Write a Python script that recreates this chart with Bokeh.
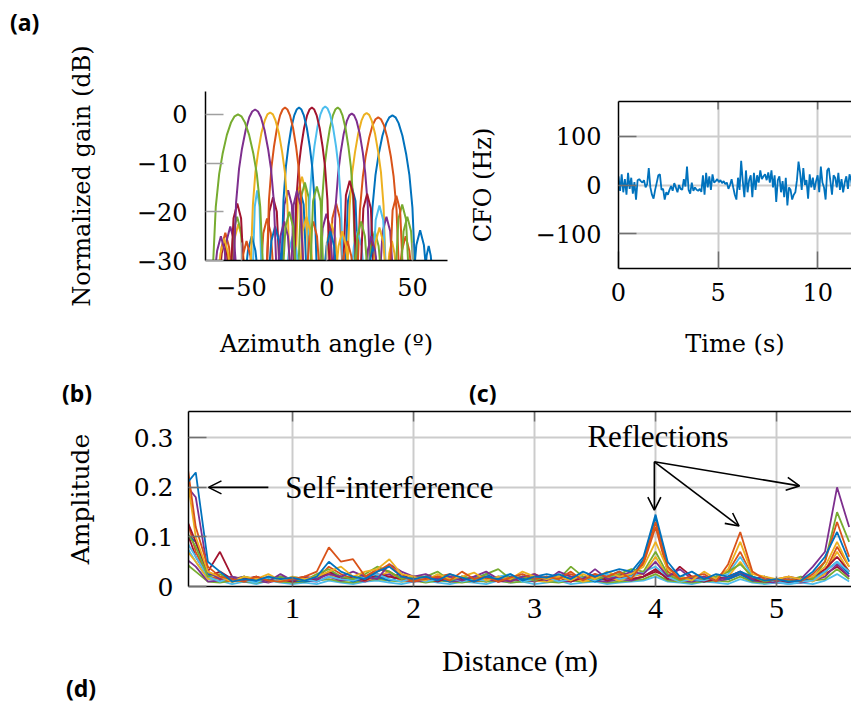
from bokeh.plotting import figure
from bokeh.layouts import column, row
from bokeh.models import Arrow, OpenHead, Label, LinearAxis, FixedTicker, Range1d, Div
from bokeh.embed import file_html
from bokeh.resources import INLINE

BLUE = "#0072BD"; ORANGE = "#D95319"; YELLOW = "#EDB120"; PURPLE = "#7E2F8E"
GREEN = "#77AC30"; LBLUE = "#4DBEEE"; DRED = "#A2142F"

# ---------------- (a) beam patterns: azimuth (deg) / normalized gain (dB) ----------------
beam_b1_deg = [-19.8,-18.0,-15.8,-13.6,-11.8, 10.5,12.3,14.5,16.7,18.5,
               24.8,26.6,28.4,30.2,32.45,34.7,36.5,38.3,40.1,41.9,44.15,46.4,48.2,50.0,51.8,
               50.5,52.3,54.5,56.7,58.5, 57,58.3,59.5,60.7,62]
beam_b1_db = [-34,-18.5,-15.5,-18.5,-34, -34,-17.8,-14.8,-17.8,-34,
              -34,-19.2,-12.4,-8.3,-4.4,-1.8,-0.6,-0.2,-0.6,-1.8,-4.4,-8.3,-12.4,-19.2,-34,
              -34,-26.8,-23.8,-26.8,-34, -34,-29,-27,-29,-34]
beam_o1_deg = [-63.4,-61.6,-59.4,-57.2,-55.4, -39,-37.2,-35,-32.8,-31, 1.4,3.2,5.4,7.6,9.4,
               17.7,19.3,21.0,22.6,24.7,26.7,28.4,30.0,31.6,33.3,35.3,37.4,39.0,40.7,42.3,
               42,43.8,46,48.2,50]
beam_o1_db = [-34,-27.3,-24.3,-27.3,-34, -34,-24.4,-21.4,-24.4,-34, -34,-21.3,-18.3,-21.3,-34,
              -34,-19.6,-12.8,-8.7,-4.8,-2.2,-1.0,-0.6,-1.0,-2.2,-4.8,-8.7,-12.8,-19.6,-34,
              -34,-28,-25,-28,-34]
beam_y1_deg = [-55.8,-54.0,-51.8,-49.6,-47.8, -18.6,-16.8,-14.6,-12.4,-10.6, -1.3,0.5,2.7,4.9,6.7,
               11.8,13.3,14.8,16.4,18.3,20.2,21.7,23.2,24.7,26.2,28.1,30.0,31.6,33.1,34.6,
               35,36.5,38,39.5,41]
beam_y1_db = [-34,-25.5,-22.5,-25.5,-34, -34,-15.8,-12.8,-15.8,-34, -34,-25.4,-22.4,-25.4,-34,
              -34,-18.7,-11.9,-7.8,-3.9,-1.3,-0.1,0.3,-0.1,-1.3,-3.9,-7.8,-11.9,-18.7,-34,
              -34,-28.5,-26,-28.5,-34]
beam_p1_deg = [-60.5,-58.7,-56.5,-54.3,-52.5, -26.7,-24.9,-22.7,-20.5,-18.7, -4.3,-2.5,-0.3,1.9,3.7,
               3.7,5.1,6.6,8.0,9.8,11.6,13.1,14.5,15.9,17.4,19.2,21.0,22.4,23.9,25.3,
               30.8,32.6,34.8,37.0,38.8]
beam_p1_db = [-34,-26,-23,-26,-34, -34,-18.6,-15.6,-18.6,-34, -34,-23.4,-20.4,-23.4,-34,
              -34,-18.8,-12.0,-7.9,-4.0,-1.4,-0.2,0.2,-0.2,-1.4,-4.0,-7.9,-12.0,-18.8,-34,
              -34,-24,-21,-24,-34]
beam_g1_deg = [-56.5,-54.7,-52.5,-50.3,-48.5, -16.9,-15.1,-12.9,-10.7,-8.9,
               -4.2,-2.8,-1.4,0.0,1.75,3.5,4.9,6.3,7.7,9.1,10.85,12.6,14.0,15.4,16.8,
               24,25.8,28,30.2,32, 40,41.8,44,46.2,48]
beam_g1_db = [-34,-24,-21,-24,-34, -34,-17,-14,-17,-34,
              -34,-17.6,-10.8,-6.7,-2.8,-0.2,1.0,1.4,1.0,-0.2,-2.8,-6.7,-10.8,-17.6,-34,
              -34,-27,-24,-27,-34, -34,-21.5,-18.5,-21.5,-34]
beam_l1_deg = [-43.5,-42.2,-40.8,-39.4,-38.1, -24,-22.2,-20,-17.8,-16,
               -11.5,-10.1,-8.7,-7.3,-5.55,-3.8,-2.4,-1.0,0.4,1.8,3.55,5.3,6.7,8.1,9.5,
               14,15.8,18,20.2,22, 26.7,28.5,30.7,32.9,34.7]
beam_l1_db = [-34,-19,-15.6,-19,-34, -34,-28,-25,-28,-34,
              -34,-17.4,-10.6,-6.5,-2.6,0.0,1.2,1.6,1.2,0.0,-2.6,-6.5,-10.6,-17.4,-34,
              -34,-27,-24,-27,-34, -34,-21.7,-18.7,-21.7,-34]
beam_r1_deg = [-63,-61.5,-60,-58.5,-57, -56.4,-54.6,-52.4,-50.2,-48.4, -35.5,-33.7,-31.5,-29.3,-27.5,
               -19.3,-17.9,-16.5,-15.1,-13.35,-11.6,-10.2,-8.8,-7.4,-6.0,-4.25,-2.5,-1.1,0.3,1.7,
               9.3,11.1,13.3,15.5,17.3, 19.5,21.3,23.5,25.7,27.5]
beam_r1_db = [-34,-28.5,-26,-28.5,-34, -34,-21.3,-18.3,-21.3,-34, -34,-20,-17,-20,-34,
              -34,-17.6,-10.8,-6.7,-2.8,-0.2,1.0,1.4,1.0,-0.2,-2.8,-6.7,-10.8,-17.6,-34,
              -34,-16.6,-13.6,-16.6,-34, -34,-19.3,-16.3,-19.3,-34]
beam_b2_deg = [-48,-46.2,-44,-41.8,-40, -34.3,-32.5,-30.3,-28.1,-26.3,
               -26.8,-25.4,-24.0,-22.6,-20.85,-19.1,-17.7,-16.3,-14.9,-13.5,-11.75,-10.0,-8.6,-7.2,-5.8,
               -2,-0.2,2,4.2,6, 24,25.5,27,28.5,30]
beam_b2_db = [-34,-28,-25,-28,-34, -34,-26,-23,-26,-34,
              -34,-17.6,-10.8,-6.7,-2.8,-0.2,1.0,1.4,1.0,-0.2,-2.8,-6.7,-10.8,-17.6,-34,
              -34,-27,-24,-27,-34, -34,-29.5,-27,-29.5,-34]
beam_o2_deg = [-51,-49.2,-47,-44.8,-43,
               -35.3,-33.9,-32.4,-31.0,-29.2,-27.4,-25.9,-24.5,-23.1,-21.6,-19.8,-18.0,-16.6,-15.1,-13.7,
               -12,-10.2,-8,-5.8,-4, 8,9.8,12,14.2,16, 36.6,38.4,40.6,42.8,44.6]
beam_o2_db = [-34,-29,-26,-29,-34,
              -34,-17.6,-10.8,-6.7,-2.8,-0.2,1.0,1.4,1.0,-0.2,-2.8,-6.7,-10.8,-17.6,-34,
              -34,-25,-22,-25,-34, -34,-29,-26,-29,-34, -34,-19.7,-16.7,-19.7,-34]
beam_y2_deg = [-64,-62.2,-60,-57.8,-56,
               -44.9,-43.3,-41.8,-40.2,-38.3,-36.3,-34.8,-33.2,-31.6,-30.1,-28.1,-26.2,-24.6,-23.1,-21.5,
               -16,-14.2,-12,-9.8,-8, 5,6.8,9,11.2,13, 26.7,28.5,30.7,32.9,34.7]
beam_y2_db = [-34,-28.5,-25.5,-28.5,-34,
              -34,-18.6,-11.8,-7.7,-3.8,-1.2,0.0,0.4,0.0,-1.2,-3.8,-7.7,-11.8,-18.6,-34,
              -34,-24,-21,-24,-34, -34,-27,-24,-27,-34, -34,-26.2,-23.2,-26.2,-34]
beam_p2_deg = [-66,-64.2,-62,-59.8,-58,
               -54.8,-53.1,-51.4,-49.7,-47.5,-45.4,-43.7,-42.0,-40.3,-38.6,-36.5,-34.4,-32.7,-31.0,-29.3,
               -29,-27.2,-25,-22.8,-21, -21,-19.5,-17.5,-15.5,-13.5, 22,23.8,26,28.2,30]
beam_p2_db = [-34,-28,-25,-28,-34,
              -34,-18.0,-11.2,-7.1,-3.2,-0.6,0.6,1.0,0.6,-0.6,-3.2,-7.1,-11.2,-18.0,-34,
              -34,-25,-22,-25,-34, -34,-18.6,-15.6,-18.6,-34, -34,-28,-25,-28,-34]
beam_g2_deg = [-67,-65,-63,-61,-58.5,-56,-54,-52,-50,-48,-45.5,-43,-41,-39,-37,
               -26,-24.2,-22,-19.8,-18, -9.9,-8.1,-5.9,-3.7,-1.9, 16,17.8,20,22.2,24, 43,44.8,47,49.2,51]
beam_g2_db = [-34,-19,-12.2,-8.1,-4.2,-1.6,-0.4,0,-0.4,-1.6,-4.2,-8.1,-12.2,-19,-34,
              -34,-23,-20,-23,-34, -34,-17.8,-14.8,-17.8,-34, -34,-25,-22,-25,-34, -34,-24,-21,-24,-34]

beams = [(beam_b1_deg, beam_b1_db, BLUE), (beam_o1_deg, beam_o1_db, ORANGE),
         (beam_y1_deg, beam_y1_db, YELLOW), (beam_p1_deg, beam_p1_db, PURPLE),
         (beam_g1_deg, beam_g1_db, GREEN), (beam_l1_deg, beam_l1_db, LBLUE),
         (beam_r1_deg, beam_r1_db, DRED), (beam_b2_deg, beam_b2_db, BLUE),
         (beam_o2_deg, beam_o2_db, ORANGE), (beam_y2_deg, beam_y2_db, YELLOW),
         (beam_p2_deg, beam_p2_db, PURPLE), (beam_g2_deg, beam_g2_db, GREEN)]
gain_xticks = [-50, 0, 50]
gain_xlabels = {-50: "\u221250", 0: "0", 50: "50"}
gain_yticks = [-30, -20, -10, 0]
gain_ylabels = {-30: "\u221230", -20: "\u221220", -10: "\u221210", 0: "0"}

# ---------------- (c) CFO over time ----------------
cfo_dt = 0.08
cfo_hz = [18, -12, 22, -15, 12, -20, 25, -8, 15, -18, 6, -30,
          10, 12, 8, 5, 10, -5, 2, 35, -5, -20, -28, -10,
          5, 20, 22, -10, -8, -30, -15, -20, -10, -2, -12, 4,
          -5, -15, 0, -8, -10, 12, -3, 38, -10, -18, 5, -12,
          -5, -10, -12, -8, -14, 20, -20, 25, -5, 18, -10, 22,
          5, 8, 12, 6, 10, 4, 8, 2, 5, -8, 0, 12,
          -5, -20, -30, 15, -10, 50, 8, -25, 30, -15, 10, 20,
          -25, 25, -10, 20, 5, 30, 12, 18, 22, 10, 26, 5,
          30, -5, 20, -35, 10, 18, -15, 8, -25, 15, -42, -5,
          -10, -30, -20, -15, 10, 48, 25, -10, 35, 0, 10, -28,
          22, -5, 15, -10, 8, 20, -15, 38, 5, -5, -30, 30,
          35, 8, -20, 20, 15, -5, 25, -10, 12, -15, 5, 18,
          -8, 22, 10, -15]
cfo_t = [i * cfo_dt for i in range(len(cfo_hz))]
cfo_xticks = [0, 5, 10]
cfo_yticks = [-100, 0, 100]
cfo_ylabels = {-100: "\u2212100", 0: "0", 100: "100"}

# ---------------- (b) range profiles: distance (m) / amplitude ----------------
dist_m = [0.1, 0.2, 0.3, 0.4, 0.5, 0.6, 0.7, 0.8, 0.9, 1.0,
          1.1, 1.2, 1.3, 1.4, 1.5, 1.6, 1.7, 1.8, 1.9, 2.0,
          2.1, 2.2, 2.3, 2.4, 2.5, 2.6, 2.7, 2.8, 2.9, 3.0,
          3.1, 3.2, 3.3, 3.4, 3.5, 3.6, 3.7, 3.8, 3.9, 4.0,
          4.1, 4.2, 4.3, 4.4, 4.5, 4.6, 4.7, 4.8, 4.9, 5.0,
          5.1, 5.2, 5.3, 5.4, 5.5, 5.6]
amp_1 = [0.20, 0.23, 0.05, 0.03, 0.01, 0.015, 0.012, 0.02, 0.015, 0.018,
         0.012, 0.02, 0.05, 0.03, 0.02, 0.015, 0.03, 0.04, 0.02, 0.015,
         0.02, 0.012, 0.025, 0.018, 0.01, 0.02, 0.015, 0.025, 0.012, 0.02,
         0.018, 0.025, 0.015, 0.03, 0.02, 0.028, 0.035, 0.03, 0.06, 0.145,
         0.05, 0.02, 0.03, 0.015, 0.025, 0.02, 0.03, 0.02, 0.012, 0.015,
         0.01, 0.012, 0.03, 0.06, 0.11, 0.05]
amp_2 = [0.30, 0.12, 0.04, 0.02, 0.015, 0.01, 0.02, 0.012, 0.01, 0.015,
         0.02, 0.03, 0.079, 0.05, 0.055, 0.02, 0.03, 0.045, 0.02, 0.012,
         0.015, 0.02, 0.012, 0.03, 0.015, 0.02, 0.01, 0.018, 0.025, 0.015,
         0.02, 0.015, 0.03, 0.012, 0.025, 0.02, 0.03, 0.015, 0.05, 0.13,
         0.04, 0.015, 0.02, 0.025, 0.01, 0.045, 0.11, 0.03, 0.015, 0.012,
         0.015, 0.01, 0.025, 0.05, 0.13, 0.06]
amp_3 = [0.27, 0.10, 0.03, 0.02, 0.01, 0.02, 0.015, 0.025, 0.012, 0.02,
         0.015, 0.02, 0.03, 0.04, 0.02, 0.03, 0.035, 0.055, 0.025, 0.02,
         0.012, 0.025, 0.015, 0.02, 0.028, 0.012, 0.02, 0.015, 0.03, 0.02,
         0.015, 0.02, 0.012, 0.025, 0.015, 0.03, 0.02, 0.025, 0.04, 0.09,
         0.035, 0.02, 0.012, 0.03, 0.015, 0.035, 0.09, 0.025, 0.02, 0.015,
         0.02, 0.015, 0.02, 0.04, 0.09, 0.04]
amp_4 = [0.21, 0.18, 0.03, 0.015, 0.02, 0.012, 0.018, 0.01, 0.025, 0.012,
         0.02, 0.015, 0.025, 0.02, 0.03, 0.02, 0.015, 0.045, 0.03, 0.02,
         0.025, 0.015, 0.02, 0.012, 0.02, 0.03, 0.015, 0.01, 0.02, 0.025,
         0.012, 0.03, 0.02, 0.015, 0.035, 0.015, 0.02, 0.03, 0.025, 0.05,
         0.02, 0.035, 0.015, 0.02, 0.012, 0.02, 0.03, 0.015, 0.02, 0.01,
         0.02, 0.015, 0.04, 0.07, 0.20, 0.12]
amp_5 = [0.12, 0.08, 0.02, 0.025, 0.01, 0.02, 0.015, 0.012, 0.02, 0.015,
         0.012, 0.025, 0.035, 0.02, 0.015, 0.025, 0.04, 0.03, 0.015, 0.02,
         0.02, 0.03, 0.012, 0.02, 0.015, 0.025, 0.035, 0.015, 0.02, 0.012,
         0.02, 0.015, 0.04, 0.02, 0.015, 0.02, 0.025, 0.035, 0.03, 0.07,
         0.025, 0.012, 0.02, 0.015, 0.02, 0.03, 0.045, 0.02, 0.01, 0.015,
         0.012, 0.02, 0.015, 0.05, 0.15, 0.09]
amp_6 = [0.10, 0.06, 0.02, 0.01, 0.02, 0.012, 0.008, 0.018, 0.01, 0.02,
         0.015, 0.01, 0.02, 0.015, 0.012, 0.02, 0.025, 0.015, 0.01, 0.018,
         0.01, 0.015, 0.02, 0.01, 0.015, 0.012, 0.02, 0.025, 0.01, 0.015,
         0.02, 0.01, 0.015, 0.02, 0.012, 0.025, 0.015, 0.02, 0.03, 0.04,
         0.02, 0.01, 0.015, 0.012, 0.02, 0.025, 0.06, 0.02, 0.015, 0.01,
         0.005, 0.01, 0.012, 0.03, 0.05, 0.03]
amp_7 = [0.15, 0.09, 0.03, 0.07, 0.02, 0.015, 0.02, 0.012, 0.015, 0.01,
         0.018, 0.012, 0.03, 0.015, 0.02, 0.012, 0.025, 0.02, 0.015, 0.02,
         0.018, 0.01, 0.02, 0.015, 0.012, 0.02, 0.01, 0.015, 0.02, 0.012,
         0.015, 0.02, 0.01, 0.018, 0.025, 0.012, 0.02, 0.015, 0.02, 0.035,
         0.015, 0.04, 0.02, 0.01, 0.015, 0.02, 0.03, 0.015, 0.01, 0.012,
         0.01, 0.015, 0.02, 0.035, 0.06, 0.03]
amp_8 = [0.11, 0.09, 0.025, 0.02, 0.012, 0.02, 0.01, 0.015, 0.02, 0.012,
         0.01, 0.015, 0.03, 0.02, 0.01, 0.018, 0.02, 0.012, 0.02, 0.015,
         0.02, 0.015, 0.01, 0.02, 0.015, 0.025, 0.012, 0.02, 0.015, 0.02,
         0.025, 0.02, 0.015, 0.02, 0.01, 0.02, 0.03, 0.02, 0.055, 0.14,
         0.04, 0.02, 0.015, 0.01, 0.02, 0.015, 0.025, 0.012, 0.02, 0.01,
         0.015, 0.01, 0.02, 0.03, 0.05, 0.025]
amp_9 = [0.16, 0.07, 0.02, 0.015, 0.01, 0.015, 0.012, 0.02, 0.01, 0.015,
         0.02, 0.015, 0.04, 0.025, 0.015, 0.02, 0.035, 0.03, 0.015, 0.01,
         0.015, 0.02, 0.025, 0.015, 0.01, 0.015, 0.02, 0.012, 0.018, 0.025,
         0.015, 0.02, 0.025, 0.015, 0.02, 0.015, 0.02, 0.025, 0.045, 0.12,
         0.03, 0.015, 0.02, 0.012, 0.02, 0.03, 0.07, 0.02, 0.01, 0.015,
         0.02, 0.012, 0.015, 0.03, 0.08, 0.04]
amp_10 = [0.08, 0.05, 0.015, 0.02, 0.01, 0.012, 0.02, 0.01, 0.015, 0.012,
          0.015, 0.02, 0.025, 0.015, 0.02, 0.012, 0.02, 0.03, 0.01, 0.015,
          0.02, 0.012, 0.015, 0.02, 0.01, 0.02, 0.015, 0.01, 0.02, 0.012,
          0.01, 0.015, 0.02, 0.01, 0.015, 0.02, 0.012, 0.02, 0.025, 0.06,
          0.02, 0.01, 0.015, 0.02, 0.012, 0.02, 0.05, 0.015, 0.02, 0.01,
          0.012, 0.015, 0.01, 0.025, 0.07, 0.03]
amp_11 = [0.06, 0.04, 0.01, 0.012, 0.015, 0.01, 0.012, 0.008, 0.015, 0.01,
          0.012, 0.01, 0.02, 0.012, 0.015, 0.01, 0.02, 0.025, 0.012, 0.01,
          0.012, 0.02, 0.01, 0.012, 0.02, 0.015, 0.01, 0.012, 0.015, 0.01,
          0.015, 0.012, 0.01, 0.02, 0.012, 0.01, 0.015, 0.012, 0.02, 0.035,
          0.015, 0.012, 0.01, 0.015, 0.012, 0.015, 0.03, 0.012, 0.01, 0.008,
          0.01, 0.008, 0.012, 0.02, 0.045, 0.02]
amp_12 = [0.05, 0.03, 0.01, 0.008, 0.012, 0.01, 0.008, 0.012, 0.01, 0.008,
          0.01, 0.012, 0.015, 0.01, 0.008, 0.012, 0.015, 0.012, 0.01, 0.012,
          0.008, 0.012, 0.01, 0.008, 0.012, 0.01, 0.012, 0.008, 0.01, 0.012,
          0.01, 0.008, 0.012, 0.01, 0.012, 0.008, 0.01, 0.012, 0.015, 0.025,
          0.012, 0.01, 0.008, 0.01, 0.012, 0.01, 0.02, 0.01, 0.008, 0.01,
          0.008, 0.01, 0.012, 0.015, 0.035, 0.015]
amp_13 = [0.09, 0.05, 0.015, 0.012, 0.005, 0.01, 0.005, 0.012, 0.008, 0.005,
          0.008, 0.005, 0.012, 0.008, 0.005, 0.01, 0.012, 0.008, 0.005, 0.01,
          0.012, 0.008, 0.005, 0.01, 0.008, 0.005, 0.012, 0.008, 0.01, 0.005,
          0.008, 0.012, 0.005, 0.008, 0.01, 0.005, 0.008, 0.01, 0.012, 0.02,
          0.01, 0.008, 0.005, 0.01, 0.008, 0.005, 0.015, 0.008, 0.005, 0.008,
          0.005, 0.008, 0.005, 0.012, 0.025, 0.01]
amp_14 = [0.13, 0.06, 0.02, 0.03, 0.015, 0.02, 0.012, 0.015, 0.02, 0.015,
          0.012, 0.02, 0.025, 0.015, 0.012, 0.02, 0.015, 0.02, 0.025, 0.012,
          0.015, 0.02, 0.012, 0.02, 0.015, 0.01, 0.02, 0.015, 0.012, 0.02,
          0.015, 0.01, 0.02, 0.015, 0.02, 0.012, 0.025, 0.015, 0.02, 0.03,
          0.02, 0.015, 0.01, 0.02, 0.012, 0.015, 0.025, 0.012, 0.015, 0.01,
          0.012, 0.01, 0.015, 0.025, 0.04, 0.02]
profiles = [(amp_14, DRED), (amp_13, LBLUE), (amp_12, GREEN), (amp_11, PURPLE),
            (amp_10, YELLOW), (amp_9, ORANGE), (amp_8, BLUE), (amp_7, DRED),
            (amp_6, LBLUE), (amp_5, GREEN), (amp_4, PURPLE), (amp_3, YELLOW),
            (amp_2, ORANGE), (amp_1, BLUE)]
dist_ticks = [1, 2, 3, 4, 5]
amp_ticks = [0, 0.1, 0.2, 0.3]
amp_labels = {0: "0", 0.1: "0.1", 0.2: "0.2", 0.3: "0.3"}

CM = "DejaVu Serif"
TIMES = "Liberation Serif"
TICK = "#707070"


def style(ax, font, size, tick_in, tick_color, label_standoff, axis_standoff):
    ax.axis_line_color = "black"
    ax.axis_line_width = 1.5
    ax.major_tick_in = tick_in
    ax.major_tick_out = 0
    ax.major_tick_line_color = tick_color
    ax.major_tick_line_width = 1.5
    ax.minor_tick_line_color = None
    ax.major_label_text_font = font
    ax.major_label_text_font_size = size
    ax.major_label_text_color = "black"
    ax.major_label_standoff = label_standoff
    ax.axis_label_text_font = font
    ax.axis_label_text_font_size = size
    ax.axis_label_text_font_style = "normal"
    ax.axis_label_text_color = "black"
    ax.axis_label_standoff = axis_standoff


def top_border(p, ticks, y_top, tick_len_data):
    # top frame line (an axis without ticks or labels) plus short inward ticks
    ax = LinearAxis(ticker=FixedTicker(ticks=[]))
    ax.axis_line_color = "black"
    ax.axis_line_width = 1.5
    ax.major_tick_line_color = None
    ax.minor_tick_line_color = None
    ax.major_label_standoff = 0
    p.add_layout(ax, "above")
    p.segment(x0=ticks, y0=[y_top] * len(ticks), x1=ticks,
              y1=[y_top - tick_len_data] * len(ticks), line_color=TICK, line_width=1.5)


def tag(txt, w, h, pad_left, pad_top, lh):
    html = ('<div style="font-family:\'Noto Sans\',sans-serif;font-weight:bold;font-size:23px;'
            f'color:black;line-height:{lh}px;padding-left:{pad_left}px;padding-top:{pad_top}px;'
            f'white-space:nowrap">{txt}</div>')
    return Div(text=html, width=w, height=h, margin=0)


# ---------------- figure (a) ----------------
pA = figure(width=465, height=338, x_range=Range1d(-71, 70.5), y_range=Range1d(-30, 4.7),
            output_backend="svg", toolbar_location=None,
            min_border_left=205, min_border_right=18, min_border_top=51, min_border_bottom=118)
pA.outline_line_color = None
pA.grid.visible = False
for deg, db, col in beams:
    pA.line(deg, db, line_color=col, line_width=2)
pA.xaxis.ticker = FixedTicker(ticks=gain_xticks)
pA.xaxis.major_label_overrides = gain_xlabels
pA.yaxis.ticker = FixedTicker(ticks=gain_yticks)
pA.yaxis.major_label_overrides = gain_ylabels
pA.xaxis.axis_label = "Azimuth angle (\u00ba)"
pA.yaxis.axis_label = "Normalized gain (dB)"
style(pA.xaxis[0], CM, "24px", 18, "#a0a0a0", 17, 31)
style(pA.yaxis[0], CM, "24px", 18, "#a0a0a0", 18, 38)

# ---------------- figure (c) ----------------
c_y0, c_y1 = -172, 172
pC = figure(width=386, height=338, x_range=Range1d(0, 11.7), y_range=Range1d(c_y0, c_y1),
            output_backend="svg", toolbar_location=None,
            min_border_left=152, min_border_right=0, min_border_top=61, min_border_bottom=110)
pC.outline_line_color = None
pC.xaxis.ticker = FixedTicker(ticks=cfo_xticks)
pC.yaxis.ticker = FixedTicker(ticks=cfo_yticks)
pC.yaxis.major_label_overrides = cfo_ylabels
pC.grid.grid_line_color = "#cccccc"
pC.grid.grid_line_width = 2
pC.line(cfo_t, cfo_hz, line_color=BLUE, line_width=1.8)
pC.xaxis.axis_label = "Time (s)"
pC.yaxis.axis_label = "CFO (Hz)"
style(pC.xaxis[0], CM, "24px", 17, TICK, 14, 26)
style(pC.yaxis[0], CM, "24px", 18, TICK, 17, 36)
top_border(pC, cfo_xticks[1:], c_y1, 8 * (c_y1 - c_y0) / 167.0)

# ---------------- figure (b) ----------------
bx0, bx1, by0, by1 = 0.14, 0.14 + 663 / 121.0, 0.0, 0.353
pB = figure(width=851, height=276, x_range=Range1d(bx0, bx1), y_range=Range1d(by0, by1),
            output_backend="svg", toolbar_location=None,
            min_border_left=188, min_border_right=0, min_border_top=7, min_border_bottom=94)
pB.outline_line_color = None
pB.xaxis.ticker = FixedTicker(ticks=dist_ticks)
pB.yaxis.ticker = FixedTicker(ticks=amp_ticks)
pB.yaxis.major_label_overrides = amp_labels
pB.grid.grid_line_color = "#cccccc"
pB.grid.grid_line_width = 2
for amp, col in profiles:
    pB.line(dist_m, amp, line_color=col, line_width=1.8)
pB.xaxis.axis_label = "Distance (m)"
pB.yaxis.axis_label = "Amplitude"
style(pB.xaxis[0], TIMES, "30px", 10, TICK, 12, 23)
style(pB.yaxis[0], CM, "25px", 18, TICK, 15, 36)
top_border(pB, dist_ticks, by1, 10 * (by1 - by0) / 175.0)

head = dict(size=13, line_width=1.6, line_color="black")
pB.add_layout(Arrow(end=OpenHead(**head), x_start=0.80, y_start=0.2, x_end=0.305, y_end=0.2,
                    line_width=1.6, line_color="black"))
for xe, ye in [(3.99, 0.154), (4.69, 0.122), (5.19, 0.203)]:
    pB.add_layout(Arrow(end=OpenHead(**head), x_start=3.99, y_start=0.2515, x_end=xe, y_end=ye,
                        line_width=1.6, line_color="black"))
pB.add_layout(Label(x=0.94, y=0.2, text="Self-interference", text_font=TIMES, text_color="black",
                    text_font_size="31px", text_baseline="middle", text_align="left"))
pB.add_layout(Label(x=4.02, y=0.302, text="Reflections", text_font=TIMES, text_color="black",
                    text_font_size="31px", text_baseline="middle", text_align="center"))

# each top plot wrapped in its own column so that Bokeh does not align their frames
layout = column(
    tag("(a)", 851, 40, 10, 12, 20),
    row(column(pA), column(pC)),
    row(tag("(b)", 469, 26, 62, 5, 20), tag("(c)", 382, 26, 0, 5, 20)),
    pB,
    tag("(d)", 851, 26, 66, 0, 16),
)
open("out.html", "w").write(file_html(layout, INLINE))
